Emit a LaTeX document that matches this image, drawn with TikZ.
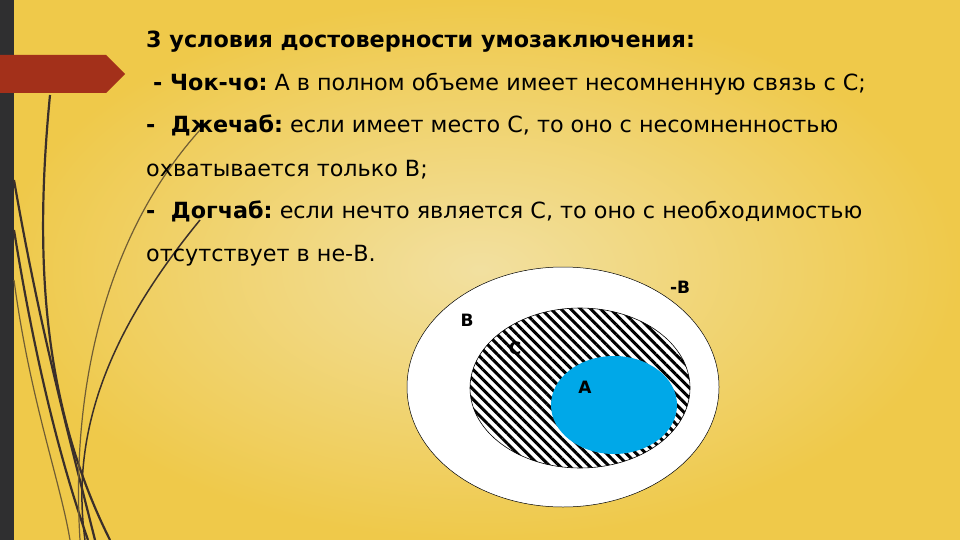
\documentclass[tikz,border=0pt]{standalone}
\usepackage{fontspec}
\setmainfont{DejaVu Sans}
\usetikzlibrary{patterns.meta}
\definecolor{bgc}{HTML}{EFC94A}
\definecolor{bgl}{HTML}{F2E0A0}
\definecolor{barc}{HTML}{2F2F30}
\definecolor{redc}{HTML}{A3301A}
\definecolor{bluec}{HTML}{00A8E8}
\definecolor{curvc}{HTML}{3A2F2A}
\tikzset{txt/.style={anchor=base west,inner sep=0pt,font=\fontsize{22.3}{24}\selectfont},
 lbl/.style={inner sep=0pt,font=\fontsize{17}{18}\selectfont\bfseries},
 curv/.style={draw=curvc,line width=2.2pt},
 thin/.style={draw=curvc!70!bgc,line width=1.2pt}}
\begin{document}
\begin{tikzpicture}[x=1pt,y=-1pt]
\useasboundingbox (0,0) rectangle (960,540);
\shade[inner color=bgl,outer color=bgc] (0,0) rectangle (960,540);
\fill[barc] (0,0) rectangle (14,540);
\node[font=\tiny,text=barc] (pg) at (5,113) {3};
% curves
\draw[curv] (14,180) .. controls (40,330) and (70,440) .. (95,540);
\draw[curv] (14,230) .. controls (35,360) and (60,460) .. (88,540);
\draw[curv] (50,95) .. controls (35,250) and (40,400) .. (110,540);
\draw[curv,line width=1.5pt] (200,220) .. controls (110,330) and (70,430) .. (85,540);
\draw[thin] (200,130) .. controls (110,230) and (70,380) .. (80,540);
\draw[thin] (14,280) .. controls (30,400) and (60,480) .. (70,540);
% red arrow
\fill[redc] (0,55) -- (106,55) -- (125,74) -- (106,93) -- (0,93) -- cycle;
% texts
\node[txt] (t1) at (146,48) {\bfseries 3 условия достоверности умозаключения:};
\node[txt] (t2) at (153,91) {\bfseries - Чок-чо:\mdseries\ A в полном объеме имеет несомненную связь с С;};
\node[txt] (t3) at (146,133) {\bfseries -\ \ Джечаб:\mdseries\ если имеет место С, то оно с несомненностью};
\node[txt] (t4) at (146,176) {охватывается только В;};
\node[txt] (t5) at (146,218) {\bfseries -\ \ Догчаб:\mdseries\ если нечто является С, то оно с необходимостью};
\node[txt] (t6) at (146,261) {отсутствует в не-В.};
% diagram
\draw[fill=white,line width=0.5pt] (563,387) ellipse [x radius=156,y radius=120];
\draw[fill=white,line width=0.6pt] (580,388) ellipse [x radius=110,y radius=80];
\fill[pattern={Lines[angle=-45,distance=7pt,line width=3pt]}] (580,388) ellipse [x radius=110,y radius=80];
\fill[bluec] (614,405) ellipse [x radius=63,y radius=49];
\node[lbl] (nb) at (680,287) {-B};
\node[lbl] (b) at (467,320) {B};
\node[lbl] (c) at (515,348) {C};
\node[lbl] (a) at (585,387) {A};
\end{tikzpicture}
\end{document}
